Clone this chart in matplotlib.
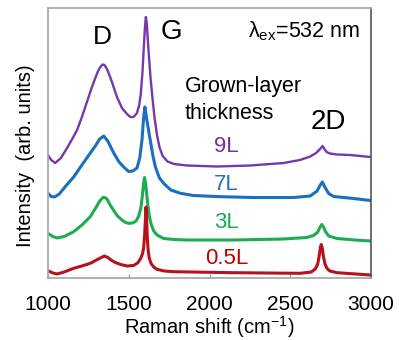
import matplotlib.pyplot as plt

plt.rcParams['font.family'] = ['Liberation Sans', 'DejaVu Sans']
plt.rcParams['mathtext.fontset'] = 'custom'
plt.rcParams['mathtext.rm'] = 'Liberation Sans'

# Raman spectra, vertically offset (arb. units)
shift_9L = [1000, 1020, 1045, 1080, 1118, 1150, 1180, 1210, 1241, 1270, 1293, 1310,
            1324, 1338, 1350, 1365, 1380, 1396, 1427, 1458, 1489, 1510, 1530, 1551,
            1565, 1575, 1585, 1593, 1600, 1606, 1612, 1618, 1625, 1635, 1648, 1660,
            1675, 1690, 1710, 1740, 1780, 1861, 2046, 2253, 2459, 2560, 2624, 2660,
            2685, 2700, 2712, 2725, 2745, 2790, 2872, 2996]
int_9L = [123, 118, 115, 120, 130, 139, 148, 161, 176, 190, 200, 207,
          211, 213.5, 213, 209, 203, 196, 181, 170, 164, 161, 161, 165,
          173, 185, 206, 230, 250, 261, 254, 238, 222, 200, 178, 160,
          143, 131, 122, 116.5, 114, 112.5, 111.5, 112.5, 115, 118, 121.5, 125,
          129, 132, 129, 126, 124.5, 123.5, 123, 121]

shift_7L = [1000, 1020, 1040, 1070, 1110, 1159, 1210, 1262, 1293, 1320, 1345, 1370,
            1407, 1440, 1469, 1499, 1525, 1551, 1568, 1582, 1592, 1600, 1608, 1615,
            1634, 1650, 1665, 1690, 1716, 1760, 1820, 1900, 2067, 2273, 2521, 2624,
            2666, 2686, 2699, 2713, 2738, 2769, 2893, 2996]
int_7L = [84.7, 81.5, 81, 84, 92, 101, 113, 125, 132, 139, 142, 137,
          125, 116, 111, 106.5, 107, 110, 120, 138, 160, 171, 162, 155,
          137, 122, 111, 100, 94.7, 88, 84.7, 82.5, 81.3, 80.5, 80.5, 82,
          87, 93, 96, 91.3, 84.5, 81.5, 79.5, 77.5]

shift_3L = [1000, 1030, 1056, 1100, 1159, 1210, 1262, 1295, 1320, 1340, 1352, 1365,
            1385, 1407, 1430, 1458, 1480, 1499, 1525, 1545, 1562, 1575, 1585, 1592,
            1598, 1604, 1610, 1618, 1627, 1640, 1655, 1675, 1716, 1780, 1861, 2150,
            2459, 2600, 2645, 2670, 2685, 2695, 2706, 2718, 2738, 2790, 2900, 2996]
int_3L = [44.7, 41.5, 40, 41.5, 46.3, 53, 61.3, 70, 77, 80.5, 80.5, 79,
          73, 67.5, 62, 58, 55.5, 54.7, 55, 57, 62, 70, 83, 95,
          100.5, 95, 86, 73, 62, 53, 47, 43, 39.5, 38.5, 38, 38,
          39, 40.5, 42.5, 46, 51, 53.5, 51, 46.5, 42, 39.5, 38, 37]

shift_05L = [1000, 1030, 1056, 1100, 1159, 1210, 1262, 1300, 1324, 1349, 1370, 1395,
             1417, 1450, 1489, 1530, 1555, 1572, 1585, 1592, 1598, 1603, 1607, 1611,
             1615, 1620, 1627, 1638, 1655, 1675, 1720, 1778, 2150, 2562, 2630, 2655,
             2670, 2680, 2687, 2692, 2698, 2705, 2715, 2728, 2745, 2790, 2996]
int_05L = [7.3, 5, 4, 6, 9.7, 12, 14.7, 18, 20, 22, 20.5, 17.5,
           15.5, 13.5, 12, 12.5, 15, 19, 24, 30, 42, 58, 71, 57,
           40, 28, 20, 14.5, 11, 8.7, 7, 6.3, 5.3, 4.7, 6, 9,
           14, 23, 31, 33.5, 30, 22, 14, 9.5, 7, 5.3, 3]

spectra = [
    (shift_9L, int_9L, '#7538ab', 1.7),
    (shift_7L, int_7L, '#1b6fbf', 2.2),
    (shift_3L, int_3L, '#1fab52', 2.2),
    (shift_05L, int_05L, '#b5121e', 2.2),
]

labels = ['9L', '7L', '3L', '0.5L']
label_y = [131, 93, 56, 20]
label_colors = ['#7030a0', '#1f70c1', '#14b050', '#c00000']

fig = plt.figure(figsize=(3.99, 3.40), dpi=100)
ax = fig.add_axes([48 / 399, 1 - 278 / 340, 323 / 399, 270 / 340])

for x, y, c, lw in spectra:
    ax.plot(x, y, color=c, lw=lw, solid_joinstyle='round', solid_capstyle='round')

for lab, ly, lc in zip(labels, label_y, label_colors):
    ax.text(2105, ly, lab, color=lc, fontsize=16, ha='center', va='center')

# peak names and annotations
ax.text(1334, 241, 'D', fontsize=19, ha='center', va='center')
ax.text(1764, 246, 'G', fontsize=20, ha='center', va='center')
ax.text(2734, 156, '2D', fontsize=20, ha='center', va='center')
ax.text(2935, 247, r'λ$_{\mathregular{ex}}$=532 nm', fontsize=15.5, ha='right', va='center')
ax.text(1848, 178, 'Grown-layer\nthickness', fontsize=15.5, ha='left', va='center',
        linespacing=1.35)

ax.set_xlim(1000, 3000)
ax.set_ylim(0, 270)
ax.set_xticks([1000, 1500, 2000, 2500, 3000])
ax.set_yticks([])
ax.tick_params(axis='x', direction='in', length=3, width=1, color='#999999',
               labelsize=15, pad=12)
ax.set_xlabel('Raman shift (cm$^{\\mathregular{-1}}$)', fontsize=14.5, labelpad=0)
ax.set_ylabel('Intensity  (arb. units)', fontsize=14.5)
ax.yaxis.set_label_coords(-0.04, 0.452)

for side in ['left', 'top', 'bottom']:
    ax.spines[side].set_color('#aaaaaa')
    ax.spines[side].set_linewidth(1.3)
ax.spines['right'].set_color('#555555')
ax.spines['right'].set_linewidth(1.2)

fig.savefig('out.png', dpi=100)
